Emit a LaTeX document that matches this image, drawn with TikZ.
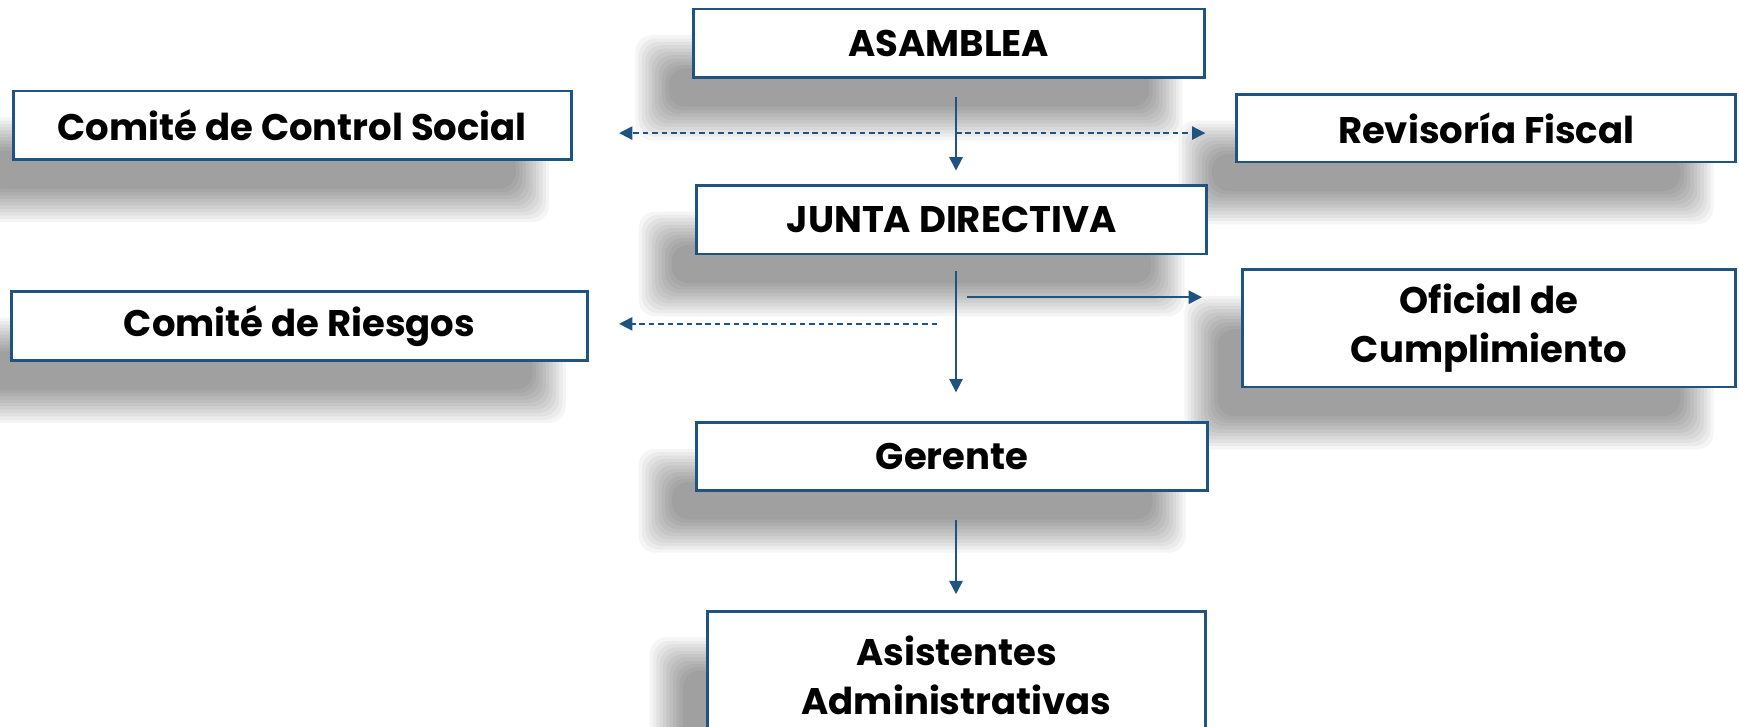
\documentclass[tikz,border=0pt]{standalone}
\usepackage{fontspec}
\setmainfont{Poppins}
\usetikzlibrary{arrows.meta,backgrounds}

\definecolor{boxblue}{RGB}{31,84,130}

\tikzset{
  orgbox/.style={draw=boxblue, line width=0.05cm, fill=white, align=center,
    inner sep=0pt, font=\fontsize{19}{25}\selectfont\bfseries},
  shadowlayer/.style={fill=black, opacity=0.04, rounded corners=0.3cm},
  link/.style={draw=boxblue, line width=0.03cm,
    -{Triangle[width=0.24cm,length=0.24cm]}},
  dashlink/.style={link, dash pattern=on 0.1cm off 0.07cm}
}

\begin{document}
\begin{tikzpicture}[x=0.02cm, y=-0.02cm]
  \useasboundingbox (0,0) rectangle (1568,655.5);

  % boxes
  \node[orgbox, minimum width=9.22cm, minimum height=1.24cm] (asamblea) at (855.5,39) {ASAMBLEA};
  \node[orgbox, minimum width=10.06cm, minimum height=1.24cm] (control) at (263.5,113) {Comité de Control Social};
  \node[orgbox, minimum width=9cm, minimum height=1.22cm] (revisoria) at (1340,115.5) {Revisoría Fiscal};
  \node[orgbox, minimum width=9.2cm, minimum height=1.24cm] (junta) at (858,198) {JUNTA DIRECTIVA};
  \node[orgbox, minimum width=10.4cm, minimum height=1.24cm] (riesgos) at (270,294) {Comité de Riesgos};
  \node[orgbox, minimum width=8.9cm, minimum height=2.12cm] (oficial) at (1342.5,296) {Oficial de\\Cumplimiento};
  \node[orgbox, minimum width=9.22cm, minimum height=1.22cm] (gerente) at (858.5,411.5) {Gerente};
  \node[orgbox, minimum width=8.98cm, minimum height=2.32cm] (asistentes) at (862.5,609) {Asistentes\\Administrativas};

  % soft shadows behind the boxes
  \begin{scope}[on background layer]
    \fill[white] (0,0) rectangle (1568,655.5);
    \foreach \b in {asamblea,control,revisoria,junta,riesgos,oficial,gerente,asistentes}
      \foreach \e in {15,12,...,-15}
        \fill[shadowlayer] ([shift={(-36-\e,40+\e)}]\b.south west) rectangle ([shift={(-36+\e,40-\e)}]\b.north east);
  \end{scope}

  % spine points
  \coordinate (hubA) at (862,120);
  \coordinate (hubB) at (862,268);
  \coordinate (hubC) at (862,292);

  % connectors
  \draw[link, shorten <=0.32cm, shorten >=0.24cm] (asamblea.south -| hubA) -- (junta.north -| hubA);
  \draw[dashlink, shorten <=0.28cm, shorten >=0.84cm] (hubA) -- (hubA -| control.east);
  \draw[dashlink, shorten >=0.54cm] (hubA) -- (hubA -| revisoria.west);
  \draw[link, shorten <=0.28cm, shorten >=0.52cm] (junta.south -| hubB) -- (gerente.north -| hubB);
  \draw[link, shorten <=0.2cm, shorten >=0.7cm] (hubB) -- (hubB -| oficial.west);
  \draw[dashlink, shorten <=0.34cm, shorten >=0.54cm] (hubC) -- (hubC -| riesgos.east);
  \draw[link, shorten <=0.52cm, shorten >=0.28cm] (gerente.south -| hubB) -- (asistentes.north -| hubB);
\end{tikzpicture}
\end{document}
